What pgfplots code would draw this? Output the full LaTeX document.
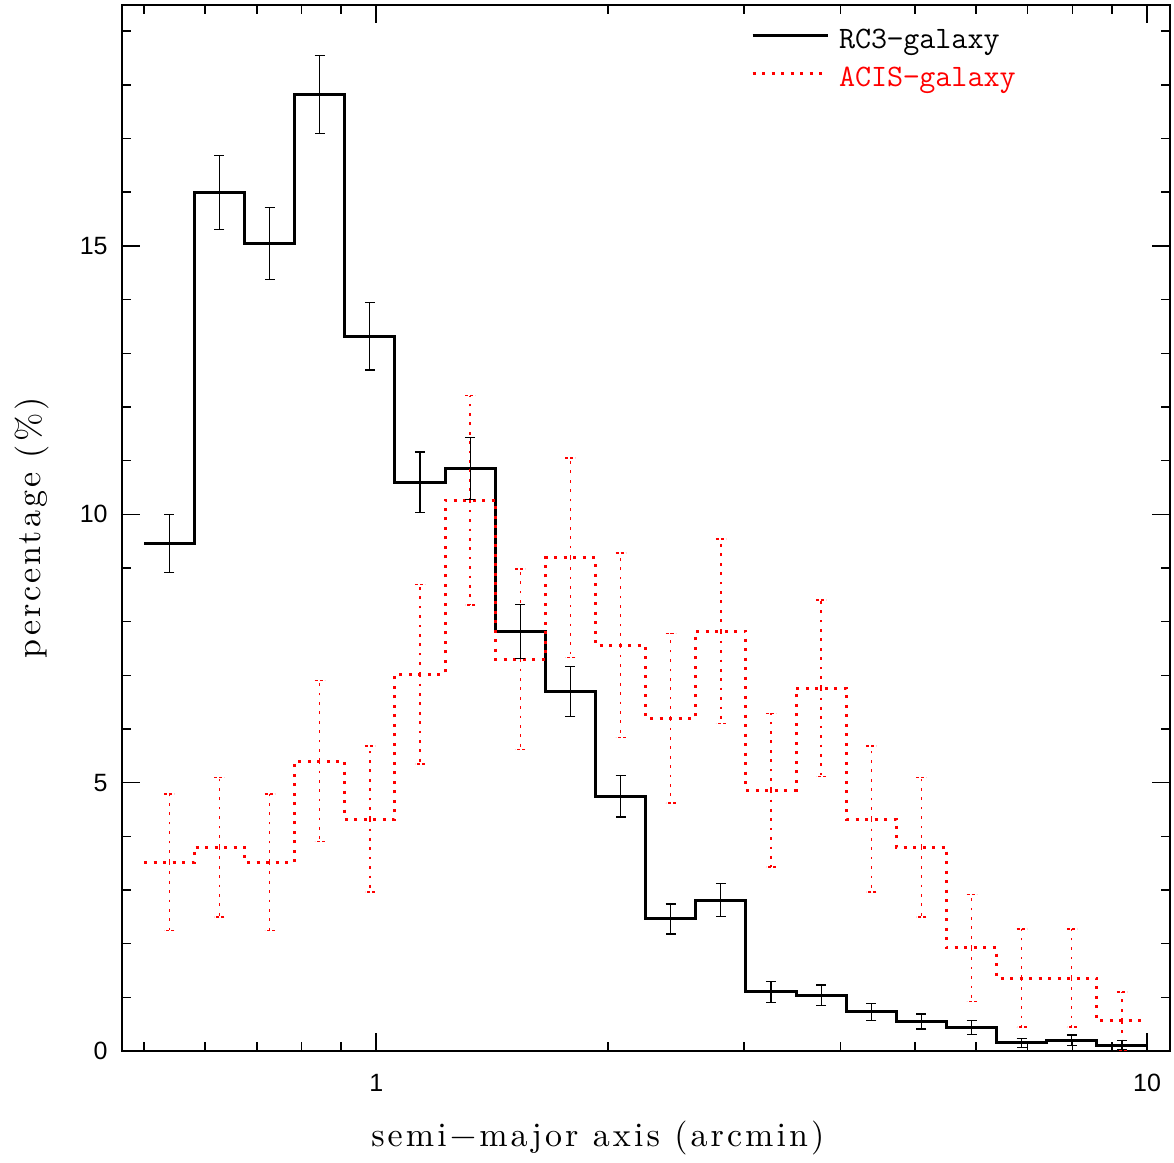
\documentclass[border=0pt]{standalone}
\usepackage{fontspec}
\usepackage{pgfplots}
\usepackage{pgfplotstable}
\pgfplotsset{compat=1.18}
\newfontfamily\tickfont{Liberation Sans}
\newfontfamily\labfam[LetterSpace=9]{lmroman10-regular.otf}
\newcommand\labfont{\labfam\fontsize{17bp}{20bp}\selectfont}
\newcommand\legfont{\ttfamily\fontsize{15.6bp}{18bp}\selectfont}

% histogram edges (log bins 0.5..10), bin value; last row closes the last bin
\pgfplotstableread{
x y
0.50000 9.45
0.58080 16.00
0.67464 15.05
0.78368 17.82
0.91031 13.32
1.05737 10.60
1.22823 10.85
1.42670 7.82
1.65725 6.70
1.92508 4.75
2.23607 2.46
2.59740 2.81
3.01712 1.10
3.50466 1.04
4.07100 0.73
4.72871 0.55
5.49284 0.44
6.38046 0.15
7.41153 0.20
8.60919 0.11
10.0000 0.11
}\rchist

\pgfplotstableread{
x y e
0.53889 9.45 0.54
0.62597 16.00 0.69
0.72711 15.05 0.67
0.84463 17.82 0.73
0.98110 13.32 0.63
1.13960 10.60 0.56
1.32375 10.85 0.58
1.53766 7.82 0.50
1.78613 6.70 0.46
2.07479 4.75 0.39
2.40997 2.46 0.28
2.79940 2.81 0.31
3.25176 1.10 0.20
3.77722 1.04 0.19
4.38761 0.73 0.16
5.09646 0.55 0.14
5.91996 0.44 0.13
6.87666 0.15 0.09
7.98793 0.20 0.10
9.27854 0.11 0.08
}\rcerr

\pgfplotstableread{
x y
0.50000 3.52
0.58080 3.80
0.67464 3.52
0.78368 5.40
0.91031 4.32
1.05737 7.02
1.22823 10.26
1.42670 7.30
1.65725 9.19
1.92508 7.56
2.23607 6.20
2.59740 7.82
3.01712 4.86
3.50466 6.76
4.07100 4.32
4.72871 3.80
5.49284 1.92
6.38046 1.36
7.41153 1.36
8.60919 0.56
10.0000 0.56
}\achist

\pgfplotstableread{
x y e
0.53889 3.52 1.27
0.62597 3.80 1.30
0.72711 3.52 1.27
0.84463 5.40 1.50
0.98110 4.32 1.36
1.13960 7.02 1.67
1.32375 10.26 1.95
1.53766 7.30 1.68
1.78613 9.19 1.86
2.07479 7.56 1.72
2.40997 6.20 1.58
2.79940 7.82 1.72
3.25176 4.86 1.43
3.77722 6.76 1.64
4.38761 4.32 1.36
5.09646 3.80 1.30
5.91996 1.92 1.00
6.87666 1.36 0.91
7.98793 1.36 0.91
9.27854 0.56 0.54
}\acerr

\begin{document}
\begin{tikzpicture}
\begin{axis}[
  name=ax,
  scale only axis,
  width=524bp, height=523bp,
  xmode=log,
  xmin=0.4679, xmax=10.71,
  ymin=0, ymax=19.49,
  axis line style={line width=1bp},
  xtick={1,10}, xticklabels={1,10},
  minor xtick={0.5,0.6,0.7,0.8,0.9,2,3,4,5,6,7,8,9},
  ytick={0,5,10,15},
  minor ytick={1,2,3,4,6,7,8,9,11,12,13,14,16,17,18,19},
  tick align=inside,
  tick pos=both,
  major tick length=9bp,
  minor tick length=4.5bp,
  every tick/.style={black, line width=0.8bp},
  /pgf/number format/assume math mode=true,
  ticklabel style={font=\tickfont\fontsize{12.5bp}{15bp}\selectfont, inner sep=0pt},
  xticklabel style={anchor=north, yshift=-11.5bp},
  yticklabel style={anchor=east, xshift=-7bp},
  xlabel={semi−major axis (arcmin)},
  ylabel={percentage (\%)},
  xlabel style={font=\labfont, at={(axis description cs:0.454,-0.0832)}, anchor=center},
  ylabel style={font=\labfont, at={(axis description cs:-0.0859,0.5)}, anchor=center},
  legend style={draw=none, fill=none, inner sep=0pt, outer sep=0pt,
    at={(axis description cs:0.6002,0.978)}, anchor=north west,
    row sep=5bp, column sep=5bp,
    nodes={inner sep=0pt, text height=10bp, text depth=4bp, font=\legfont}},
  legend cell align=left,
  legend image code/.code={\draw[#1] (0bp,3.5bp) -- (37.5bp,3.5bp);},
]
\addplot[const plot mark left, black, line width=1.5bp] table[x=x,y=y]{\rchist};
\addlegendentry{RC3−galaxy}
\addplot[const plot mark left, red, line width=1.5bp, dash pattern=on 1.5bp off 3.25bp] table[x=x,y=y]{\achist};
\addlegendentry{\textcolor{red}{ACIS−galaxy}}

\addplot[forget plot, draw=none, no markers,
  error bars/.cd, y dir=both, y explicit,
  error bar style={draw=red, line width=0.7bp, dash pattern=on 1.35bp off 3.35bp},
  error mark options={rotate=90, mark size=2.5bp, draw=red, line width=0.7bp, dash pattern=on 1.5bp off 1bp}]
  table[x=x,y=y,y error=e]{\acerr};
\addplot[forget plot, draw=none, no markers,
  error bars/.cd, y dir=both, y explicit,
  error bar style={draw=black, solid, line width=0.6bp},
  error mark options={rotate=90, mark size=2.5bp, draw=black, solid, line width=0.6bp}]
  table[x=x,y=y,y error=e]{\rcerr};
\end{axis}
\pgfresetboundingbox
\path (ax.south west) ++(-61bp,-56bp) coordinate (bl);
\path (ax.north east) ++(2bp,2.5bp) coordinate (tr);
\path (bl) rectangle (tr);
\end{tikzpicture}
\end{document}
